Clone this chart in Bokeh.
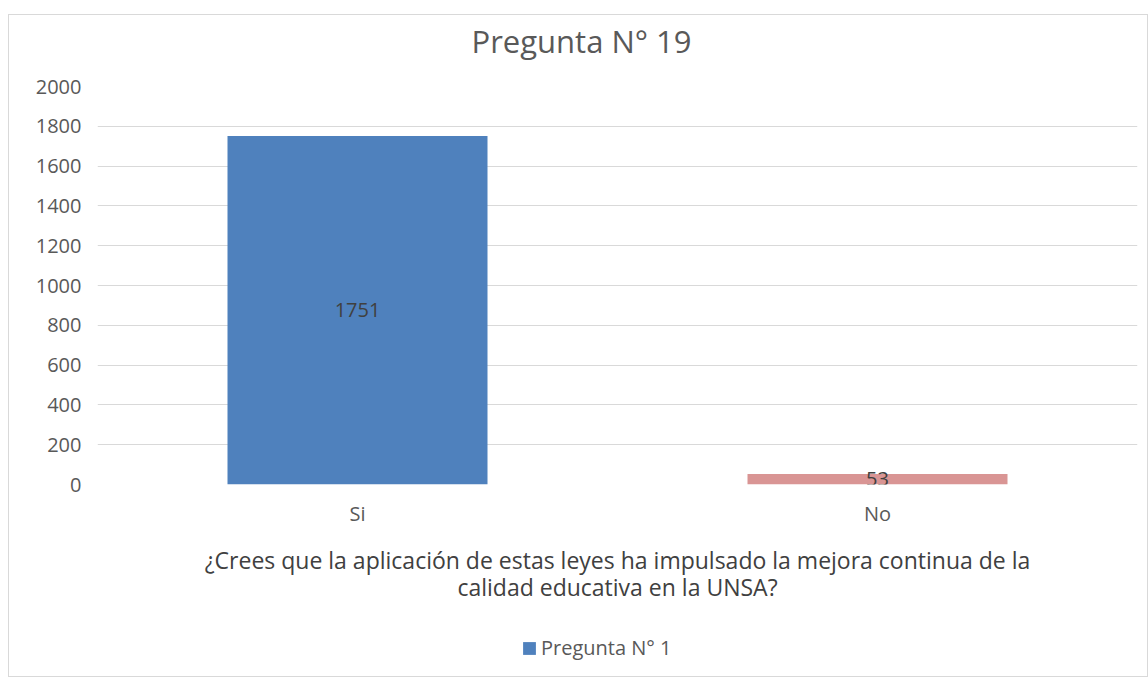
from bokeh.plotting import figure
from bokeh.layouts import column
from bokeh.models import (ColumnDataSource, Range1d, Legend, LegendItem, LabelSet, Label,
                          FactorRange)
from bokeh.core.properties import value
from bokeh.embed import file_html
from bokeh.resources import INLINE

categories = ["Si", "No"]
values = [1751, 53]
series_name = "Pregunta N° 1"
title_text = "Pregunta N° 19"
x_label = "¿Crees que la aplicación de estas leyes ha impulsado la mejora continua de la\ncalidad educativa en la UNSA?"
y_ticks = [0, 200, 400, 600, 800, 1000, 1200, 1400, 1600, 1800, 2000]

bar_colors = ["#4F81BD", "#D99594"]
FONT = "Open Sans"
W = 1138

src = ColumnDataSource(dict(cat=categories, val=values, color=bar_colors,
                            mid=[v / 2 for v in values], lbl=[str(v) for v in values]))

# ---- title strip ----
pt = figure(x_range=Range1d(0, 1), y_range=Range1d(0, 1), width=W, height=57,
            output_backend="svg", toolbar_location=None, min_border=0, title=None)
pt.axis.visible = False
pt.grid.visible = False
pt.outline_line_color = None
pt.add_layout(Label(x=374, y=32, x_units="screen", y_units="screen", text=title_text,
                    text_align="left", text_baseline="middle", text_font=FONT,
                    text_font_size="31px", text_color="#595959"))

# ---- main chart ----
p = figure(x_range=FactorRange(*categories, range_padding=0), y_range=Range1d(0, 2000),
           width=W, height=548, output_backend="svg", toolbar_location=None,
           min_border_left=88, min_border_right=10, min_border_top=14, min_border_bottom=136,
           title=None)
p.outline_line_color = None

r = p.vbar(x="cat", top="val", width=0.5, fill_color="color", line_color=None, source=src)

p.add_layout(LabelSet(x="cat", y="mid", text="lbl", source=src, text_align="center",
                      text_baseline="middle", text_font=value(FONT), text_font_size="20px",
                      text_color="#404040"))

p.yaxis.ticker = y_ticks
p.yaxis.axis_line_color = None
p.yaxis.major_tick_line_color = None
p.yaxis.minor_tick_line_color = None
p.yaxis.major_label_text_font = FONT
p.yaxis.major_label_text_font_size = "20px"
p.yaxis.major_label_text_color = "#595959"
p.yaxis.major_label_standoff = 10

p.xaxis.axis_line_color = None
p.xaxis.major_tick_line_color = None
p.xaxis.major_label_text_font = FONT
p.xaxis.major_label_text_font_size = "20px"
p.xaxis.major_label_text_color = "#595959"
p.xaxis.major_label_standoff = 9
p.xaxis.axis_label = x_label
p.xaxis.axis_label_text_font = FONT
p.xaxis.axis_label_text_font_size = "23px"
p.xaxis.axis_label_text_font_style = "normal"
p.xaxis.axis_label_text_color = "#404040"
p.xaxis.axis_label_text_line_height = 0.85
p.xaxis.axis_label_standoff = 14
p.xaxis.axis_label_text_align = "center"

p.xgrid.grid_line_color = None
p.ygrid.grid_line_color = "#d9d9d9"
p.ygrid.grid_line_width = 1

# ---- legend strip ----
pl = figure(x_range=FactorRange(*categories), y_range=Range1d(0, 2000),
            width=W, height=56, output_backend="svg", toolbar_location=None,
            min_border=0, title=None)
pl.axis.visible = False
pl.grid.visible = False
pl.outline_line_color = None
rl = pl.vbar(x="cat", top="val", width=0.5, fill_color="color", line_color=None, source=src)
rl.visible = False

legend = Legend(items=[LegendItem(label=series_name, renderers=[rl], index=0)],
                location=(424, 15), border_line_color=None, background_fill_alpha=0,
                inactive_fill_alpha=0,
                label_text_font=FONT, label_text_font_size="20px", label_text_color="#595959",
                glyph_width=16, glyph_height=16, label_standoff=4, padding=0, margin=0,
                label_height=16)
pl.add_layout(legend, "center")

layout = column(pt, p, pl, spacing=0)
layout.margin = (14, 0, 0, 8)
layout.styles = {"border": "1px solid #d9d9d9"}

open("out.html", "w").write(file_html(layout, INLINE))
